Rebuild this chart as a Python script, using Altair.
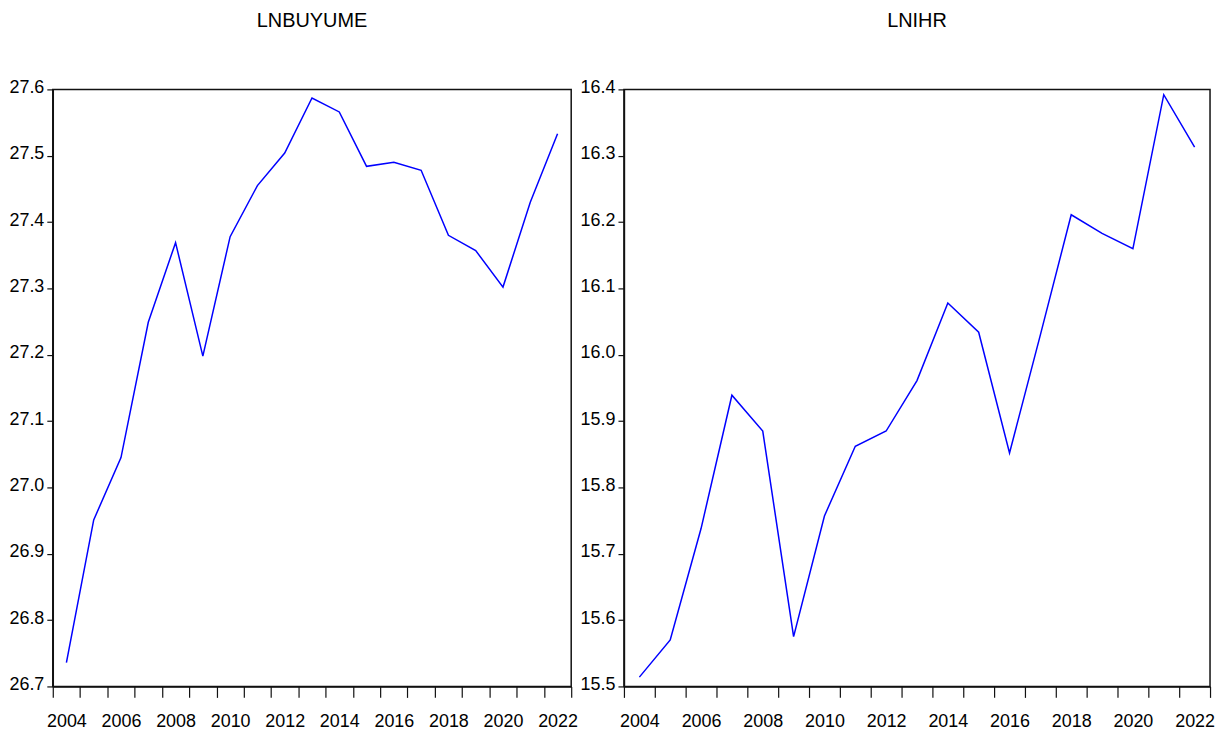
import altair as alt
import pandas as pd

years = list(range(2004, 2023))
lnbuyume = [26.736, 26.951, 27.045, 27.249, 27.369, 27.198, 27.378, 27.455, 27.504,
            27.587, 27.566, 27.484, 27.490, 27.478, 27.380, 27.357, 27.302, 27.430, 27.533]
lnihr = [15.514, 15.570, 15.738, 15.939, 15.885, 15.575, 15.757, 15.862, 15.885,
         15.961, 16.078, 16.034, 15.852, 16.030, 16.211, 16.183, 16.160, 16.392, 16.313]

x_ticks = [y - 0.5 for y in range(2004, 2024)]
left_y_ticks = [26.7, 26.8, 26.9, 27.0, 27.1, 27.2, 27.3, 27.4, 27.5, 27.6]
right_y_ticks = [15.5, 15.6, 15.7, 15.8, 15.9, 16.0, 16.1, 16.2, 16.3, 16.4]

FONT = "Liberation Sans"

df_a = pd.DataFrame({"year": years, "value": lnbuyume})
df_b = pd.DataFrame({"year": years, "value": lnihr})


def panel(df, title, yticks, width):
    half = width / len(years) / 2
    xaxis = alt.Axis(
        values=x_ticks,
        labelExpr="(datum.value - 0.5) % 2 == 0 ? format(datum.value - 0.5, 'd') : ''",
        labelOffset=-half, labelAlign="center", labelBaseline="alphabetic",
        labelPadding=29, tickSize=11, labelOverlap=False, labelFlush=False,
        grid=False, title=None,
    )
    yaxis = alt.Axis(
        values=yticks, format=".1f", tickSize=6, labelPadding=3,
        labelBaseline="alphabetic", labelOffset=3, labelFlush=False,
        labelOverlap=False, grid=False, title=None,
    )
    return alt.Chart(df).mark_line(color="#0000ff", strokeWidth=1.5).encode(
        x=alt.X("year:Q", scale=alt.Scale(domain=[2003.5, 2022.5], nice=False, zero=False), axis=xaxis),
        y=alt.Y("value:Q", scale=alt.Scale(domain=[yticks[0], yticks[-1]], nice=False, zero=False), axis=yaxis),
    ).properties(
        width=width, height=600,
        title=alt.TitleParams(title, fontSize=20, font=FONT, fontWeight="normal",
                              anchor="middle", baseline="alphabetic", offset=32, color="#000"),
    )


chart = alt.hconcat(
    panel(df_a, "LNBUYUME", left_y_ticks, 521),
    panel(df_b, "LNIHR", right_y_ticks, 589),
    spacing=0,
).properties(padding=0, background="white").configure_view(
    stroke="#111", strokeWidth=1.5
).configure_axis(
    labelFont=FONT, labelFontSize=18, labelColor="#000",
    domainColor="#111", domainWidth=1.5, tickColor="#111", tickWidth=1.2,
)

chart.save("out.html", embed_options={"renderer": "svg", "actions": False})
